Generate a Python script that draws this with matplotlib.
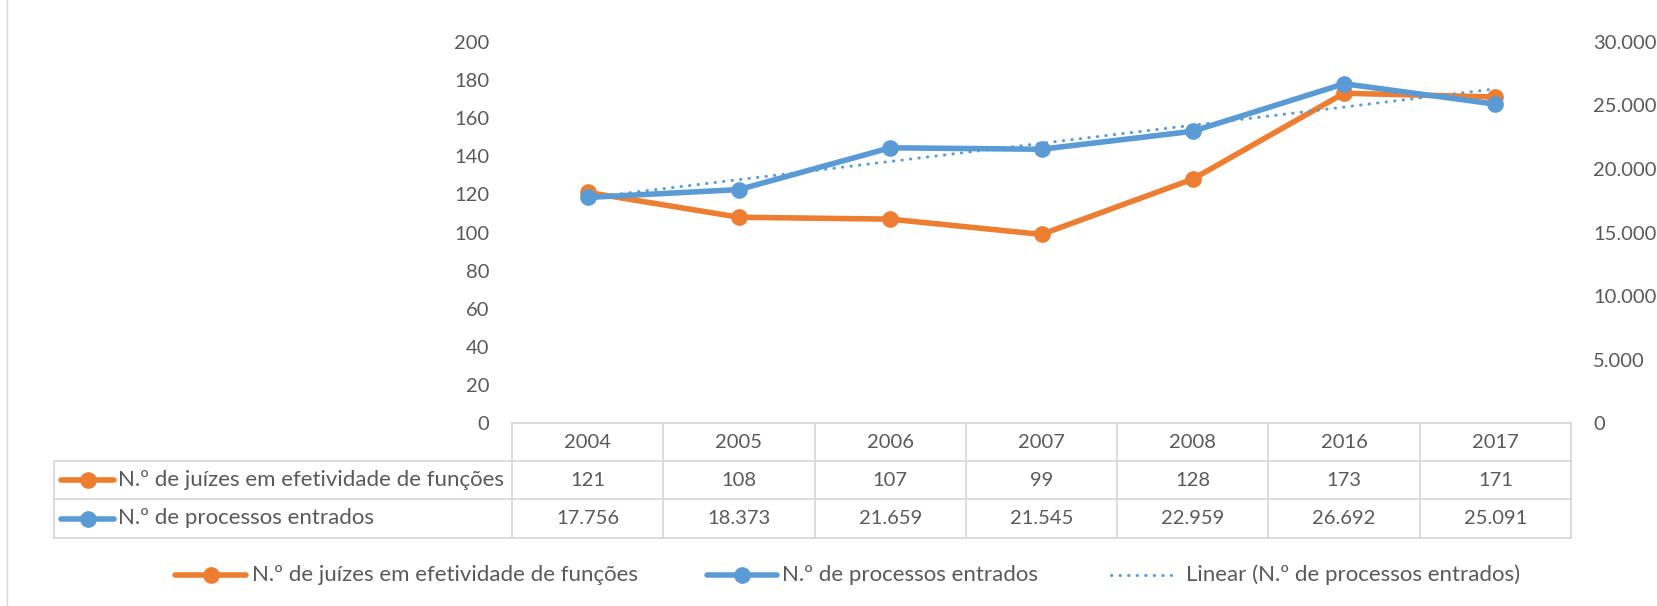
"""
Juízes em efetividade vs processos entrados (gráfico de linhas com tabela de dados)
"""

import numpy as np
import matplotlib
matplotlib.use('Agg')
import matplotlib.pyplot as plt
from matplotlib.lines import Line2D
from matplotlib.ticker import FuncFormatter, MultipleLocator
from matplotlib.transforms import blended_transform_factory

# dados
anos = ['2004', '2005', '2006', '2007', '2008', '2016', '2017']
juizes = [121, 108, 107, 99, 128, 173, 171]
processos = [17756, 18373, 21659, 21545, 22959, 26692, 25091]

nome_juizes = 'N.º de juízes em efetividade de funções'
nome_processos = 'N.º de processos entrados'
nome_tendencia = 'Linear (N.º de processos entrados)'

LARANJA = '#ED7D31'
AZUL = '#5B9BD5'
TEXTO = '#595959'
GRELHA = '#D9D9D9'

W, H = 1657, 606
plt.rcParams['font.family'] = ['Lato', 'DejaVu Sans']
FS = 14.5      # números
FS_TXT = 16    # etiquetas de texto
PONTILHADO = (0, (0.1, 2.7))


def fx(px):
    return px / W


def fy(py):
    return 1 - py / H


def milhares(v, pos=None):
    return f'{int(v):,}'.replace(',', '.')


fig = plt.figure(figsize=(W / 100, H / 100), dpi=100)
ax = fig.add_axes([fx(512), fy(423.3), fx(1571) - fx(512), fy(41.7) - fy(423.3)])
ax2 = ax.twinx()

x = np.arange(len(anos))

# série principal (eixo esquerdo)
ax.plot(x, juizes, '-o', color=LARANJA, lw=4, ms=11, zorder=3)

# série secundária (eixo direito) + tendência linear
ax2.plot(x, processos, '-o', color=AZUL, lw=4, ms=11, zorder=3)
coef = np.polyfit(x, processos, 1)
ax2.plot(x, np.polyval(coef, x), color=AZUL, lw=2.2, ls=PONTILHADO,
         dash_capstyle='round', zorder=4)

ax.set_xlim(-0.5, len(anos) - 0.5)
ax.set_ylim(0, 200)
ax2.set_ylim(0, 30000)
ax.yaxis.set_major_locator(MultipleLocator(20))
ax2.yaxis.set_major_locator(MultipleLocator(5000))
ax2.yaxis.set_major_formatter(FuncFormatter(milhares))

for a in (ax, ax2):
    for s in a.spines.values():
        s.set_visible(False)
    a.set_xticks([])
    a.tick_params(axis='y', length=0, labelsize=FS, labelcolor=TEXTO)
ax.tick_params(axis='y', pad=16.5)
ax2.tick_params(axis='y', pad=16)

# tabela de dados
tr = blended_transform_factory(ax.transData, fig.transFigure)
linhas_y = [423, 461, 499, 538]
x_esq = 54
lkw = dict(color=GRELHA, lw=1.3, zorder=1)

# linhas horizontais
fig.add_artist(Line2D([fx(512), fx(1571)], [fy(linhas_y[0])] * 2, **lkw))
for py in linhas_y[1:]:
    fig.add_artist(Line2D([fx(x_esq), fx(1571)], [fy(py)] * 2, **lkw))
# linhas verticais
for i in range(len(anos) + 1):
    fig.add_artist(Line2D([i - 0.5, i - 0.5], [fy(423), fy(538)], transform=tr, **lkw))
fig.add_artist(Line2D([fx(x_esq), fx(x_esq)], [fy(461), fy(538)], **lkw))

cy = [(linhas_y[k] + linhas_y[k + 1]) / 2 for k in range(3)]
for i, ano in enumerate(anos):
    fig.text(i, fy(cy[0]), ano, transform=tr, ha='center', va='center',
             fontsize=FS, color=TEXTO)
    fig.text(i, fy(cy[1]), str(juizes[i]), transform=tr, ha='center', va='center',
             fontsize=FS, color=TEXTO)
    fig.text(i, fy(cy[2]), milhares(processos[i]), transform=tr, ha='center',
             va='center', fontsize=FS, color=TEXTO)


def chave(x0, x1, py, cor, estilo='-', lw=4, marcador=True):
    fig.add_artist(Line2D([fx(x0), fx(x1)], [fy(py)] * 2, color=cor, lw=lw, ls=estilo,
                          solid_capstyle='round', dash_capstyle='round'))
    if marcador:
        fig.add_artist(Line2D([fx((x0 + x1) / 2)], [fy(py)], marker='o', ms=11,
                              color=cor, ls='none'))


# chaves da tabela
chave(61, 114, cy[1], LARANJA)
fig.text(fx(118), fy(cy[1]), nome_juizes, ha='left', va='center', fontsize=FS_TXT, color=TEXTO)
chave(61, 114, cy[2], AZUL)
fig.text(fx(118), fy(cy[2]), nome_processos, ha='left', va='center', fontsize=FS_TXT, color=TEXTO)

# legenda inferior
ly = 575
chave(175, 246, ly, LARANJA)
fig.text(fx(252), fy(ly), nome_juizes, ha='left', va='center', fontsize=FS_TXT, color=TEXTO)
chave(707, 777, ly, AZUL)
fig.text(fx(782), fy(ly), nome_processos, ha='left', va='center', fontsize=FS_TXT, color=TEXTO)
chave(1111, 1171, ly, AZUL, estilo=PONTILHADO, lw=2.2, marcador=False)
fig.text(fx(1186), fy(ly), nome_tendencia, ha='left', va='center', fontsize=FS_TXT, color=TEXTO)

# borda do gráfico
fig.add_artist(Line2D([fx(7), fx(7)], [0, 1], color=GRELHA, lw=1))

fig.savefig('out.png', dpi=100)
